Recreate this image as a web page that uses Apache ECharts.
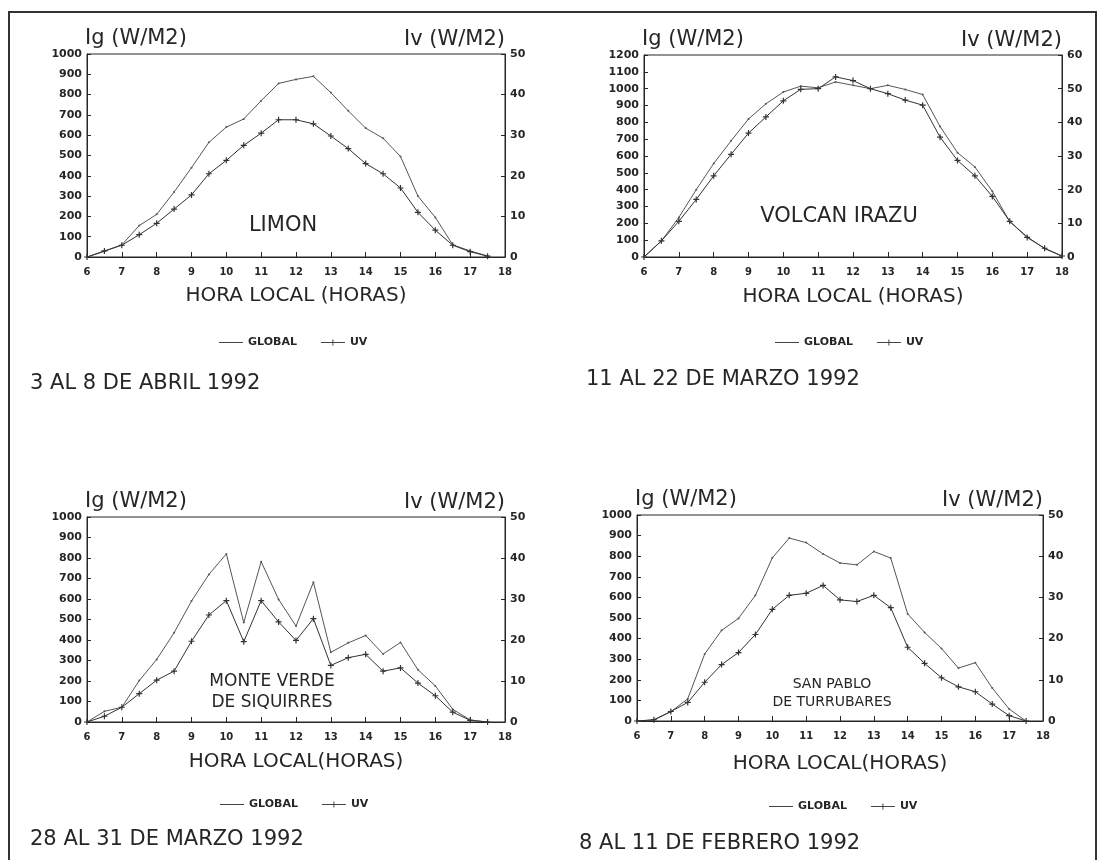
<!DOCTYPE html>
<html lang="es">
<head>
<meta charset="UTF-8">
<title>Radiacion global y UV</title>
<style>
  html, body { margin: 0; padding: 0; background: #fff; }
  #chart { width: 1099px; height: 860px; }
</style>
</head>
<body>
<div id="chart"></div>
<script src="https://cdn.jsdelivr.net/npm/echarts@6/dist/echarts.min.js"></script>
<script>
// horas (eje x)
var hours = [6, 6.5, 7, 7.5, 8, 8.5, 9, 9.5, 10, 10.5, 11, 11.5, 12, 12.5, 13, 13.5, 14, 14.5, 15, 15.5, 16, 16.5, 17, 17.5, 18];

// LIMON
var limonGlobal = [0, 28, 60, 155, 210, 320, 440, 565, 640, 680, 770, 855, 875, 890, 810, 720, 635, 585, 495, 300, 195, 60, 30, 5, null];
var limonUV = [0, 1.5, 2.9, 5.5, 8.3, 11.8, 15.3, 20.5, 23.8, 27.5, 30.5, 33.8, 33.8, 32.8, 29.8, 26.7, 23, 20.5, 17, 11, 6.6, 2.9, 1.3, 0.2, null];

// VOLCAN IRAZU
var irazuGlobal = [0, 95, 235, 400, 555, 690, 820, 910, 980, 1015, 1005, 1040, 1020, 1000, 1020, 995, 965, 775, 620, 535, 390, 210, 120, 50, 5];
var irazuUV = [0, 4.8, 10.6, 17.1, 24.1, 30.5, 36.8, 41.6, 46.4, 49.8, 50, 53.5, 52.4, 50, 48.5, 46.6, 45.1, 35.6, 28.7, 24.1, 18, 10.6, 5.8, 2.6, 0.3];

// MONTE VERDE DE SIQUIRRES
var monteGlobal = [0, 52, 72, 202, 305, 435, 590, 720, 820, 485, 782, 598, 468, 682, 340, 386, 422, 332, 388, 255, 176, 62, 10, 0, null];
var monteUV = [0, 1.4, 3.6, 6.9, 10.2, 12.4, 19.7, 26.1, 29.6, 19.6, 29.6, 24.4, 19.9, 25.2, 13.8, 15.7, 16.5, 12.4, 13.2, 9.5, 6.4, 2.4, 0.4, 0, null];

// SAN PABLO DE TURRUBARES
var sanPabloGlobal = [0, 5, 45, 108, 325, 440, 498, 610, 792, 888, 866, 811, 767, 758, 823, 791, 520, 430, 352, 257, 283, 160, 58, 0, null];
var sanPabloUV = [0, 0.3, 2.3, 4.5, 9.4, 13.7, 16.6, 21, 27.1, 30.5, 31, 32.9, 29.4, 29, 30.5, 27.5, 17.9, 14, 10.5, 8.3, 7.1, 4.1, 1.3, 0, null];

var panels = [
    { global: limonGlobal, uv: limonUV, igMax: 1000, ivMax: 50, xName: 'HORA LOCAL (HORAS)' },
    { global: irazuGlobal, uv: irazuUV, igMax: 1200, ivMax: 60, xName: 'HORA LOCAL (HORAS)' },
    { global: monteGlobal, uv: monteUV, igMax: 1000, ivMax: 50, xName: 'HORA LOCAL(HORAS)' },
    { global: sanPabloGlobal, uv: sanPabloUV, igMax: 1000, ivMax: 50, xName: 'HORA LOCAL(HORAS)' }
];

// layout of the four plots
var grids = [
    { left: 87, top: 54, width: 418, height: 203 },
    { left: 644, top: 55, width: 418, height: 202 },
    { left: 87, top: 517, width: 418, height: 205 },
    { left: 637, top: 515, width: 406, height: 206 }
];
var xNameGap = [39, 40, 40, 43];
var legendPos = [[214, 332], [770, 332], [215, 794], [764, 796]];

var ink = '#262626';
var font = 'DejaVu Sans';
var plus = 'path://M4,0H6V4H10V6H6V10H4V6H0V4H4Z';
var iconGlobal = 'path://M0,4.5H24V5.5H0Z';
var iconUV = 'path://M0,4.5H11.5V2H12.5V4.5H24V5.5H12.5V8H11.5V5.5H0Z';

function pairs(arr) {
    return hours.map(function (h, i) { return [h, arr[i]]; });
}
function plain(v) { return String(v); }

var option = {
    backgroundColor: '#fff',
    animation: false,
    textStyle: { fontFamily: font, color: ink },
    grid: [],
    xAxis: [],
    yAxis: [],
    legend: [],
    series: []
};

panels.forEach(function (p, i) {
    var g = grids[i];
    option.grid.push({
        left: g.left, top: g.top, width: g.width, height: g.height,
        show: true, borderColor: ink, borderWidth: 1, backgroundColor: 'transparent'
    });
    option.xAxis.push({
        type: 'value', gridIndex: i, min: 6, max: 18, interval: 1,
        name: p.xName, nameLocation: 'middle', nameGap: xNameGap[i],
        nameTextStyle: { fontSize: 20, color: ink, verticalAlign: 'middle' },
        axisLine: { lineStyle: { color: ink, width: 1 } },
        axisTick: { inside: true, length: 5, lineStyle: { color: ink } },
        axisLabel: { fontSize: 10, fontWeight: 'bold', color: ink, margin: 10, formatter: plain },
        splitLine: { show: false }
    });
    option.yAxis.push({
        type: 'value', gridIndex: i, position: 'left', min: 0, max: p.igMax, interval: 100,
        name: 'Ig (W/M2)', nameLocation: 'end', nameGap: 14,
        nameTextStyle: { fontSize: 21, color: ink, align: 'left', verticalAlign: 'middle', padding: [0, 0, 0, -2] },
        axisLine: { show: true, lineStyle: { color: ink, width: 1 } },
        axisTick: { show: true, inside: true, length: 4, lineStyle: { color: ink } },
        axisLabel: { fontSize: 11, fontWeight: 'bold', color: ink, margin: 5, formatter: plain },
        splitLine: { show: false }
    });
    option.yAxis.push({
        type: 'value', gridIndex: i, position: 'right', min: 0, max: p.ivMax, interval: 10,
        name: 'Iv (W/M2)', nameLocation: 'end', nameGap: 14,
        nameTextStyle: { fontSize: 21, color: ink, align: 'right', verticalAlign: 'middle' },
        axisLine: { show: true, lineStyle: { color: ink, width: 1 } },
        axisTick: { show: true, inside: true, length: 4, lineStyle: { color: ink } },
        axisLabel: { fontSize: 11, fontWeight: 'bold', color: ink, margin: 5, formatter: plain },
        splitLine: { show: false }
    });
    option.legend.push({
        data: [{ name: 'GLOBAL', icon: iconGlobal }, { name: 'UV', icon: iconUV }],
        left: legendPos[i][0], top: legendPos[i][1],
        itemWidth: 24, itemHeight: 10, itemGap: 24,
        selectedMode: false,
        itemStyle: { color: '#444', borderWidth: 0 },
        textStyle: { fontSize: 11, fontWeight: 'bold', color: ink, fontFamily: font }
    });
    option.series.push({
        name: 'GLOBAL', type: 'line', xAxisIndex: i, yAxisIndex: i * 2,
        symbol: 'circle', symbolSize: 2, showSymbol: true,
        lineStyle: { color: '#555', width: 1 },
        itemStyle: { color: '#555' },
        data: pairs(p.global)
    });
    option.series.push({
        name: 'UV', type: 'line', xAxisIndex: i, yAxisIndex: i * 2 + 1,
        symbol: plus, symbolSize: 6, showSymbol: true,
        lineStyle: { color: '#333', width: 1 },
        itemStyle: { color: '#333' },
        data: pairs(p.uv)
    });
});

// station names, dates and outer frame
function txt(text, x, y, size, align) {
    return {
        type: 'text', x: x, y: y, silent: true,
        style: { text: text, fill: ink, font: size + 'px "' + font + '"', textAlign: align || 'left', textVerticalAlign: 'middle', lineHeight: size + 4 }
    };
}
option.graphic = [
    { type: 'rect', silent: true, shape: { x: 9, y: 12, width: 1087, height: 870 }, style: { fill: 'none', stroke: '#333', lineWidth: 2 } },
    txt('LIMON', 283, 226, 21, 'center'),
    txt('VOLCAN IRAZU', 839, 217, 21, 'center'),
    txt('MONTE VERDE\nDE SIQUIRRES', 272, 692, 17, 'center'),
    txt('SAN PABLO\nDE TURRUBARES', 832, 693, 14, 'center'),
    txt('3 AL 8 DE ABRIL 1992', 30, 384, 21),
    txt('11 AL 22 DE MARZO 1992', 586, 380, 21),
    txt('28 AL 31 DE MARZO 1992', 30, 840, 21),
    txt('8 AL 11 DE FEBRERO 1992', 579, 844, 21)
];

var myChart = echarts.init(document.getElementById('chart'));
myChart.setOption(option);
</script>
</body>
</html>
